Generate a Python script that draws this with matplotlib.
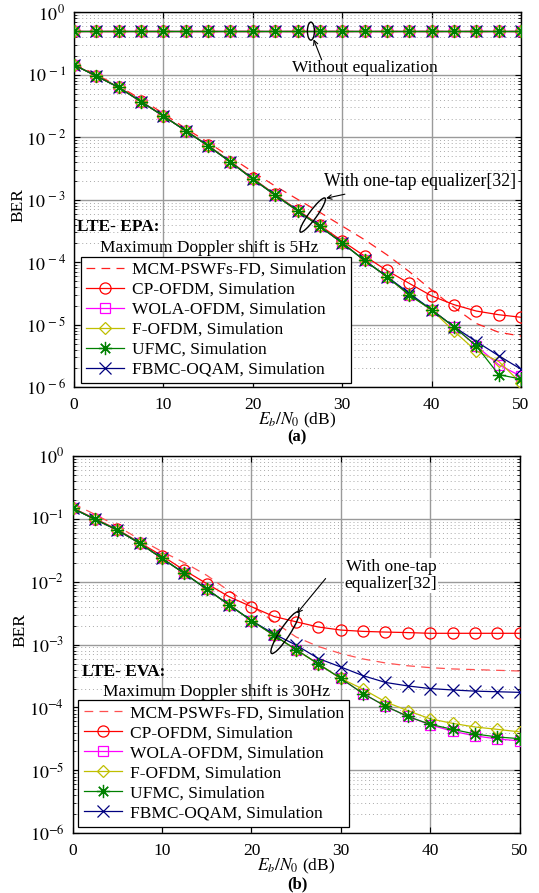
import numpy as np
import matplotlib
matplotlib.use('Agg')
import matplotlib.pyplot as plt
from matplotlib.patches import Ellipse
from matplotlib import transforms
from matplotlib.ticker import LogLocator, FixedLocator, FuncFormatter, NullFormatter

plt.rcParams['font.family'] = ['Liberation Serif', 'DejaVu Serif']
plt.rcParams['mathtext.fontset'] = 'stix'

# ---------------- data ----------------
snr_db = [0, 2.5, 5, 7.5, 10, 12.5, 15, 17.5, 20, 22.5, 25, 27.5, 30,
          32.5, 35, 37.5, 40, 42.5, 45, 47.5, 50]

# (a) LTE-EPA, no equalization (all waveforms)
epa_noeq = [0.5, 0.5, 0.5, 0.5, 0.5, 0.5, 0.5, 0.5, 0.5, 0.5, 0.5,
            0.5, 0.5, 0.5, 0.5, 0.5, 0.5, 0.5, 0.5, 0.5, 0.5]

# (a) LTE-EPA, one-tap equalizer
epa_mcm = [1.51e-1, 1.0e-1, 6.6e-2, 4.07e-2, 2.4e-2, 1.38e-2, 8.3e-3, 4.8e-3,
           2.8e-3, 1.66e-3, 1.02e-3, 6.3e-4, 3.8e-4, 2.3e-4, 1.32e-4, 7.1e-5,
           3.6e-5, 1.9e-5, 1.05e-5, 7.6e-6, 6.6e-6]
epa_cp = [1.45e-1, 9.6e-2, 6.35e-2, 3.75e-2, 2.2e-2, 1.28e-2, 7.4e-3, 4.1e-3,
          2.2e-3, 1.22e-3, 6.9e-4, 3.9e-4, 2.19e-4, 1.26e-4, 7.4e-5, 4.6e-5,
          2.9e-5, 2.1e-5, 1.66e-5, 1.45e-5, 1.32e-5]
epa_wola = [1.44e-1, 9.55e-2, 6.3e-2, 3.72e-2, 2.19e-2, 1.27e-2, 7.31e-3, 4.02e-3,
            2.15e-3, 1.19e-3, 6.7e-4, 3.76e-4, 2.04e-4, 1.07e-4, 5.9e-5, 3.0e-5,
            1.74e-5, 9.3e-6, 4.6e-6, 2.3e-6, 1.5e-6]
epa_fofdm = [1.44e-1, 9.55e-2, 6.3e-2, 3.72e-2, 2.19e-2, 1.27e-2, 7.31e-3, 4.02e-3,
             2.15e-3, 1.19e-3, 6.7e-4, 3.76e-4, 2.04e-4, 1.07e-4, 5.9e-5, 3.0e-5,
             1.74e-5, 7.9e-6, 3.8e-6, 2.6e-6, 1.17e-6]
epa_ufmc = [1.44e-1, 9.55e-2, 6.3e-2, 3.72e-2, 2.19e-2, 1.27e-2, 7.31e-3, 4.02e-3,
            2.15e-3, 1.19e-3, 6.7e-4, 3.76e-4, 2.04e-4, 1.07e-4, 5.9e-5, 3.0e-5,
            1.74e-5, 9.3e-6, 4.6e-6, 1.6e-6, 1.35e-6]
epa_fbmc = [1.44e-1, 9.55e-2, 6.3e-2, 3.72e-2, 2.19e-2, 1.27e-2, 7.31e-3, 4.02e-3,
            2.15e-3, 1.19e-3, 6.7e-4, 3.76e-4, 2.04e-4, 1.07e-4, 5.9e-5, 3.2e-5,
            1.74e-5, 9.3e-6, 5.4e-6, 3.2e-6, 1.95e-6]

# (b) LTE-EVA, one-tap equalizer
eva_mcm = [1.74e-1, 1.17e-1, 7.6e-2, 4.7e-2, 3.0e-2, 2.0e-2, 1.26e-2, 7.1e-3,
           4.2e-3, 2.3e-3, 1.32e-3, 9.3e-4, 7.2e-4, 5.9e-4, 5.1e-4, 4.6e-4,
           4.3e-4, 4.1e-4, 4.0e-4, 3.9e-4, 3.8e-4]
eva_cp = [1.48e-1, 1.0e-1, 6.76e-2, 4.17e-2, 2.57e-2, 1.51e-2, 9.3e-3, 5.75e-3,
          4.0e-3, 2.8e-3, 2.3e-3, 1.9e-3, 1.7e-3, 1.62e-3, 1.58e-3, 1.55e-3,
          1.51e-3, 1.51e-3, 1.51e-3, 1.51e-3, 1.51e-3]
eva_wola = [1.46e-1, 9.77e-2, 6.6e-2, 4.07e-2, 2.34e-2, 1.35e-2, 7.6e-3, 4.27e-3,
            2.4e-3, 1.41e-3, 8.3e-4, 4.9e-4, 2.9e-4, 1.66e-4, 1.05e-4, 7.2e-5,
            5.3e-5, 4.2e-5, 3.55e-5, 3.16e-5, 2.95e-5]
eva_fofdm = [1.46e-1, 9.77e-2, 6.6e-2, 4.07e-2, 2.34e-2, 1.35e-2, 7.6e-3, 4.27e-3,
             2.4e-3, 1.41e-3, 8.3e-4, 4.9e-4, 2.9e-4, 1.95e-4, 1.23e-4, 8.9e-5,
             6.6e-5, 5.6e-5, 4.9e-5, 4.5e-5, 4.1e-5]
eva_ufmc = [1.46e-1, 9.77e-2, 6.6e-2, 4.07e-2, 2.34e-2, 1.35e-2, 7.6e-3, 4.27e-3,
            2.4e-3, 1.41e-3, 8.3e-4, 4.9e-4, 2.9e-4, 1.66e-4, 1.05e-4, 7.2e-5,
            5.4e-5, 4.5e-5, 3.8e-5, 3.4e-5, 3.2e-5]
eva_fbmc = [1.46e-1, 9.77e-2, 6.6e-2, 4.07e-2, 2.34e-2, 1.35e-2, 7.6e-3, 4.27e-3,
            2.4e-3, 1.48e-3, 9.8e-4, 6.0e-4, 4.4e-4, 3.2e-4, 2.5e-4, 2.2e-4,
            2.0e-4, 1.9e-4, 1.82e-4, 1.78e-4, 1.74e-4]

labels = ['MCM-PSWFs-FD, Simulation', 'CP-OFDM, Simulation', 'WOLA-OFDM, Simulation',
          'F-OFDM, Simulation', 'UFMC, Simulation', 'FBMC-OQAM, Simulation']
x_ticks = [0, 10, 20, 30, 40, 50]
y_ticks = [1e-6, 1e-5, 1e-4, 1e-3, 1e-2, 1e-1, 1e0]

# ---------------- styles ----------------
asterisk = (8, 2, 0)
styles = [
    dict(color='#FF2020', ls=(0, (7, 5)), marker=None),
    dict(color='#FF0000', ls='-', marker='o', ms=8),
    dict(color='#FF00FF', ls='-', marker='s', ms=6.5),
    dict(color='#BFBF00', ls='-', marker='D', ms=6.3),
    dict(color='#008000', ls='-', marker=asterisk, ms=9.5),
    dict(color='#00007F', ls='-', marker='x', ms=8),
]
zorders = [3, 3, 3, 3, 5, 4]
FS = 12.5

fig = plt.figure(figsize=(5.39, 8.93), dpi=100)
ax1 = fig.add_axes([0.1373, 0.5663, 0.8293, 0.4199])
ax2 = fig.add_axes([0.1349, 0.0668, 0.8290, 0.4228])


def line_kw(i, col):
    st = styles[i]
    kw = dict(color=col, linestyle=st['ls'], lw=0.9, zorder=zorders[i])
    if st['marker'] is not None:
        kw.update(marker=st['marker'], ms=st['ms'], mfc='none', mec=col, mew=0.9)
    return kw


def draw_series(ax, ys, mcm_color=None):
    handles = []
    for i, y in enumerate(ys):
        col = styles[i]['color'] if (i > 0 or mcm_color is None) else mcm_color
        h, = ax.plot(snr_db, y, label=labels[i], **line_kw(i, col))
        handles.append(h)
    return handles


def style_axes(ax, spaced):
    ax.set_yscale('log')
    ax.set_xlim(0, 50)
    ax.set_ylim(1e-6, 1)
    ax.xaxis.set_major_locator(FixedLocator(x_ticks))
    ax.yaxis.set_major_locator(FixedLocator(y_ticks))
    ax.yaxis.set_minor_locator(LogLocator(base=10, subs=np.arange(2, 10), numticks=20))
    ax.yaxis.set_minor_formatter(NullFormatter())
    fmt = r'$10^{\,%d}$' if spaced else r'$10^{%d}$'
    ax.yaxis.set_major_formatter(FuncFormatter(lambda v, p: fmt % int(round(np.log10(v)))))
    ax.tick_params(which='both', direction='in', top=True, right=True)
    ax.tick_params(axis='x', which='major', pad=7, length=4, labelsize=FS)
    ax.tick_params(axis='y', which='major', pad=6, length=4, labelsize=13)
    ax.tick_params(axis='y', which='minor', length=2)
    ax.grid(True, which='major', color='#9a9a9a', lw=1.0, ls='-')
    ax.grid(True, which='minor', axis='y', color='#a8a8a8', lw=0.7, ls=(0, (1, 3)))
    ax.set_axisbelow(True)
    for s in ax.spines.values():
        s.set_linewidth(1.0)
        s.set_color('black')
    ax.set_xlabel(r'$E_b/N_0$ (dB)', fontsize=FS, labelpad=-1.5)
    ax.set_ylabel('BER', fontsize=FS)


def ellipse(ax, xd, yd, w_px, h_px, ang):
    tr = fig.dpi_scale_trans + transforms.ScaledTranslation(xd, yd, ax.transData)
    e = Ellipse((0, 0), width=w_px / 100, height=h_px / 100, angle=ang,
                fill=False, edgecolor='black', lw=1.0, transform=tr, zorder=10)
    ax.add_patch(e)


def add_legend(ax, handles, anchor):
    leg = ax.legend(handles=handles, loc='lower left', bbox_to_anchor=anchor,
                    borderaxespad=0, fontsize=FS, frameon=True, fancybox=False,
                    edgecolor='black', framealpha=1, handlelength=2.2,
                    handletextpad=0.45, labelspacing=0.22, borderpad=0.3)
    leg.get_frame().set_linewidth(0.9)
    leg.set_zorder(20)
    return leg


style_axes(ax1, True)
style_axes(ax2, False)

arrow_kw = dict(arrowstyle='->', lw=0.8, color='black', shrinkA=0, shrinkB=0,
                mutation_scale=8)

# ---- panel (a) ----
for i in range(6):
    ax1.plot(snr_db, epa_noeq, **line_kw(i, styles[i]['color']))
h1 = draw_series(ax1, [epa_mcm, epa_cp, epa_wola, epa_fofdm, epa_ufmc, epa_fbmc])
add_legend(ax1, h1, (0.015, 0.011))

ax1.text(0.007, 0.428, 'LTE- EPA:', transform=ax1.transAxes, fontsize=FS,
         fontweight='bold', va='center', ha='left', zorder=21)
ax1.text(0.058, 0.371, 'Maximum Doppler shift is 5Hz', transform=ax1.transAxes,
         fontsize=FS, va='center', ha='left', zorder=21)

ax1.text(24.4, 0.13, 'Without equalization', fontsize=FS, va='center', ha='left', zorder=21)
ellipse(ax1, 26.5, 0.5, 7, 18, 0)
ax1.annotate('', xy=(26.8, 0.37), xytext=(27.7, 0.174), arrowprops=arrow_kw, zorder=21)

ax1.text(28.0, 1.95e-3, 'With one-tap equalizer[32]', fontsize=12.8, va='center',
         ha='left', zorder=21)
ellipse(ax1, 26.7, 5.7e-4, 42, 8, 54)
ax1.annotate('', xy=(28.2, 1.06e-3), xytext=(30.3, 1.23e-3), arrowprops=arrow_kw, zorder=21)
ax1.yaxis.set_label_coords(-0.107, 0.486)

# ---- panel (b) ----
h2 = draw_series(ax2, [eva_mcm, eva_cp, eva_wola, eva_fofdm, eva_ufmc, eva_fbmc],
                 mcm_color='#FF5050')
add_legend(ax2, h2, (0.0125, 0.018))

ax2.text(0.02, 0.428, 'LTE- EVA:', transform=ax2.transAxes, fontsize=FS,
         fontweight='bold', va='center', ha='left', zorder=21)
ax2.text(0.068, 0.375, 'Maximum Doppler shift is 30Hz', transform=ax2.transAxes,
         fontsize=FS, va='center', ha='left', zorder=21)

ax2.text(35.6, 1.26e-2, 'With one-tap\nequalizer[32]', fontsize=FS, va='center',
         ha='center', zorder=21, linespacing=1.1,
         bbox=dict(facecolor='white', edgecolor='none', pad=0.5))
ellipse(ax2, 23.75, 1.55e-3, 49.5, 10, 57)
ax2.annotate('', xy=(25.1, 3.14e-3), xytext=(28.3, 1.12e-2), arrowprops=arrow_kw, zorder=21)
ax2.yaxis.set_label_coords(-0.1, 0.538)

fig.text(0.551, 0.5105, '(a)', fontsize=12, fontweight='bold', ha='center', va='center')
fig.text(0.551, 0.0095, '(b)', fontsize=12, fontweight='bold', ha='center', va='center')

fig.savefig('out.png', dpi=100)
